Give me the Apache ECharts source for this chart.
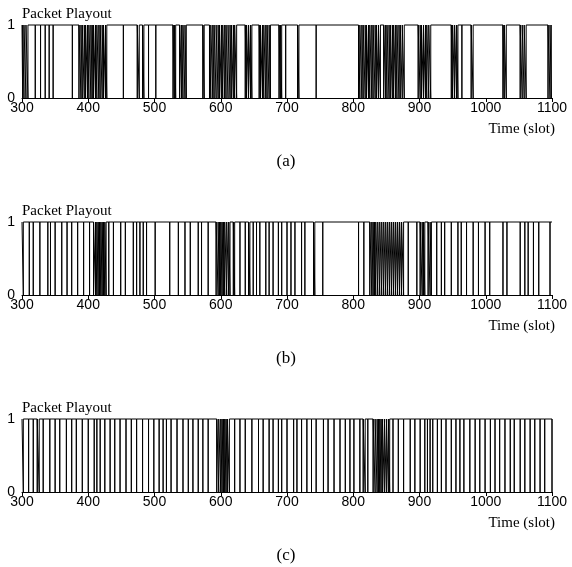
<!DOCTYPE html>
<html style="height: 100%">
<head>
  <meta charset="utf-8">
  <title>Packet Playout</title>
</head>
<body style="height: 100%; margin: 0; background: #fff">
<div id="container" style="width: 572px; height: 567px"></div>
<script type="text/javascript" src="https://cdn.jsdelivr.net/npm/echarts@6/dist/echarts.min.js"></script>
<script type="text/javascript">
  // slot range and axis ticks
  let slotStart = 300
  let slotEnd = 1100
  let xTicks = [300, 400, 500, 600, 700, 800, 900, 1000, 1100]
  let panelLabels = ['(a)', '(b)', '(c)']

  // slots where no packet was played out (value 0)
  let lossA = [301, 303, 306, 309, 320, 328, 335, 341, 347, 376,
    386, 389, 391, 394, 396, 399, 401, 404, 406, 408, 411, 413, 416, 418, 421, 423, 426, 428,
    453, 474, 477, 482, 484, 491, 502, 528, 530, 532, 538, 541, 543, 546, 548, 573, 575,
    583, 585, 588, 590, 593, 596, 598, 601, 603, 606, 608, 611, 614, 616, 619, 621, 624,
    637, 639, 642, 645, 647, 658, 660, 663, 665, 668, 670, 673, 675,
    688, 690, 692, 698, 716, 718, 744,
    808, 810, 813, 815, 818, 820, 823, 825, 828, 830, 833, 835, 838, 841, 846, 849, 851, 854,
    856, 859, 861, 864, 866, 869, 871, 874, 877,
    898, 901, 903, 906, 909, 911, 914, 917, 948, 950, 953, 956, 958, 964,
    978, 981, 1026, 1028, 1031, 1052, 1055, 1058, 1061, 1094, 1097, 1099]

  let lossB = [302, 311, 317, 327, 339, 343, 350, 360, 368, 375, 384, 393, 402,
    408, 411, 413, 415, 417, 419, 421, 423, 425, 427, 431, 438, 449, 456, 468, 473, 478,
    483, 488, 501, 523, 536, 546, 554, 566, 571, 581,
    593, 596, 598, 600, 602, 604, 606, 609, 612, 614, 619, 621, 629, 637, 642, 644, 649,
    654, 659, 668, 673, 679, 687, 692, 700, 706, 712, 722, 727, 740, 742, 754,
    808, 816, 825, 828, 830, 832, 834, 837, 840, 843, 846, 849, 852, 855, 858, 861, 864,
    867, 870, 873, 876, 883, 896, 901, 904, 906, 908, 913, 916, 918, 926, 933, 938, 948,
    958, 963, 971, 981, 989, 999, 1006, 1026, 1032, 1052, 1059, 1064, 1072, 1080, 1097]

  let lossC = [302, 310, 317, 323, 326, 332, 342, 350, 357, 367, 375, 382, 391, 400,
    409, 413, 418, 425, 433, 440, 448, 457, 465, 473, 482, 491, 499, 507, 513, 518, 525,
    534, 543, 551, 558, 566, 573, 581, 594, 597, 600, 602, 604, 606, 608, 610, 613, 621,
    629, 637, 647, 657, 664, 673, 679, 687, 692, 700, 710, 715, 722, 730, 737, 744, 755,
    762, 771, 780, 788, 795, 801, 810, 815, 818, 822, 830, 833, 836, 838, 840, 842, 844,
    847, 850, 853, 855, 860, 868, 876, 886, 893, 901, 908, 912, 916, 920, 927, 933, 940,
    948, 955, 961, 967, 976, 984, 991, 999, 1007, 1014, 1021, 1029, 1037, 1043, 1052,
    1059, 1067, 1074, 1082, 1089, 1100]

  let losses = [lossA, lossB, lossC]

  // panel placement (pixels)
  let gridTops = [25, 222, 419]
  let gridHeight = 73

  let dom = document.getElementById('container')
  let myChart = echarts.init(dom, null, { renderer: 'canvas' })

  // playout trace: stays at 1, drops to 0 at each lost slot and comes back
  // (a slot is < 1px wide here, so each loss is drawn as one vertical stroke)
  function buildSeries(lost) {
    let pts = [[slotStart, 1]]
    lost.forEach(s => {
      pts.push([s, 1], [s, 0], [s, 1])
    })
    pts.push([slotEnd, 1])
    return pts
  }

  let serif = '"Liberation Serif", "Times New Roman", serif'
  let sans = '"Liberation Sans", Arial, sans-serif'

  let grid = [], xAxis = [], yAxis = [], series = [], title = []
  gridTops.forEach((top, i) => {
    grid.push({ left: 22, right: 20, top: top, height: gridHeight })
    xAxis.push({
      type: 'value', gridIndex: i, min: slotStart, max: slotEnd, interval: 100,
      axisLine: { lineStyle: { color: '#000', width: 1 } },
      axisTick: { show: true, length: 4, lineStyle: { color: '#000' } },
      splitLine: { show: false },
      axisLabel: {
        color: '#000', fontFamily: sans, fontSize: 14, margin: 3,
        formatter: v => xTicks.includes(v) ? String(v) : ''
      }
    })
    yAxis.push({
      type: 'value', gridIndex: i, min: 0, max: 1, interval: 1,
      axisLine: { show: false }, axisTick: { show: false }, splitLine: { show: false },
      axisLabel: { color: '#000', fontFamily: sans, fontSize: 14, margin: 7 }
    })
    series.push({
      type: 'line', xAxisIndex: i, yAxisIndex: i,
      data: buildSeries(losses[i]),
      symbol: 'none', clip: false,
      lineStyle: { color: '#000', width: 1 },
      animation: false
    })
    title.push({
      text: 'Packet Playout', left: 17, top: top - 23,
      textStyle: { fontFamily: serif, fontSize: 15, fontWeight: 'normal', color: '#000' }
    })
    title.push({
      text: 'Time (slot)', right: 12, top: top + 92,
      textStyle: { fontFamily: serif, fontSize: 15, fontWeight: 'normal', color: '#000' }
    })
    title.push({
      text: panelLabels[i], left: 'center', top: top + 123,
      textStyle: { fontFamily: serif, fontSize: 17, fontWeight: 'normal', color: '#000' }
    })
  })

  let option = {
    backgroundColor: '#fff',
    animation: false,
    title: title,
    grid: grid,
    xAxis: xAxis,
    yAxis: yAxis,
    series: series
  }

  myChart.setOption(option, true)
</script>
</body>
</html>
